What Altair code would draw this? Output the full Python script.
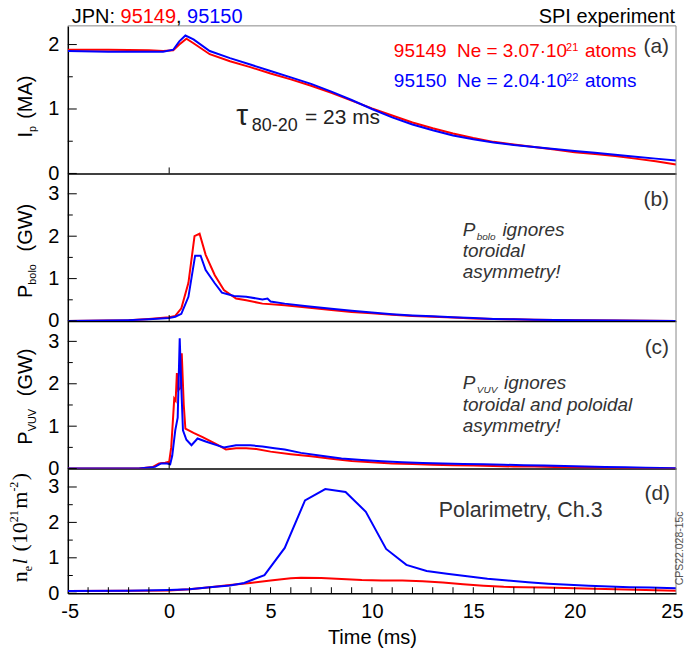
import altair as alt
import pandas as pd

# ------------------------------------------------------------------ data
SHOTS = ["95149", "95150"]
RED = "#ff0000"
BLUE = "#0000ff"

# (a) plasma current Ip (MA)
ip_t_149 = [-5, -3, -1, -0.3, 0.2, 0.5, 0.85, 1.2, 2, 3, 4, 5, 6, 7, 8, 9, 10, 11, 12, 13,
            14, 15, 16, 17, 18, 19, 20, 21, 22, 23, 24, 25]
ip_v_149 = [1.92, 1.92, 1.91, 1.90, 1.91, 2.00, 2.09, 2.02, 1.85, 1.74, 1.65, 1.55, 1.46, 1.36,
            1.25, 1.13, 1.01, 0.90, 0.79, 0.70, 0.62, 0.55, 0.49, 0.45, 0.41, 0.37, 0.33, 0.30,
            0.27, 0.23, 0.19, 0.14]
ip_t_150 = [-5, -3, -1, -0.3, 0.2, 0.5, 0.8, 1.2, 2, 3, 4, 5, 6, 7, 8, 9, 10, 11, 12, 13,
            14, 15, 16, 17, 18, 19, 20, 21, 22, 23, 24, 25]
ip_v_150 = [1.90, 1.89, 1.89, 1.89, 1.92, 2.05, 2.14, 2.08, 1.90, 1.79, 1.69, 1.59, 1.49, 1.39,
            1.27, 1.14, 1.00, 0.87, 0.76, 0.67, 0.59, 0.53, 0.48, 0.44, 0.41, 0.38, 0.35, 0.32,
            0.29, 0.26, 0.23, 0.20]

# (b) bolometric power (GW)
pb_t_149 = [-5, -3, -2, -1, 0, 0.3, 0.6, 0.95, 1.25, 1.5, 1.8, 2.25, 2.7, 3.3, 3.8, 4.6, 5.7,
            6.8, 8, 9, 10, 11, 12, 13, 14, 15, 16, 17, 18, 20, 22, 25]
pb_v_149 = [0, 0.01, 0.02, 0.05, 0.09, 0.12, 0.30, 0.90, 2.00, 2.06, 1.56, 1.08, 0.73, 0.53,
            0.49, 0.41, 0.37, 0.32, 0.26, 0.21, 0.18, 0.15, 0.12, 0.10, 0.08, 0.06, 0.05, 0.04,
            0.03, 0.02, 0.01, 0.0]
pb_t_150 = [-5, -3, -2, -1, 0, 0.3, 0.6, 0.95, 1.28, 1.55, 1.8, 2.25, 2.6, 3.2, 3.8, 4.6, 4.85,
            5.0, 5.7, 6.8, 8, 9, 10, 11, 12, 13, 14, 15, 16, 17, 18, 20, 22, 25]
pb_v_150 = [0, 0.01, 0.02, 0.04, 0.07, 0.10, 0.17, 0.57, 1.54, 1.54, 1.20, 0.89, 0.67, 0.59,
            0.57, 0.51, 0.53, 0.46, 0.41, 0.35, 0.29, 0.24, 0.20, 0.16, 0.13, 0.11, 0.09, 0.07,
            0.05, 0.04, 0.03, 0.02, 0.01, 0.0]

# (c) VUV power (GW)
pv_t_149 = [-5, -1.5, -0.8, -0.5, -0.2, 0, 0.1, 0.18, 0.25, 0.32, 0.38, 0.45, 0.55, 0.62, 0.72,
            0.8, 1.2, 1.65, 2.3, 2.8, 3.3, 3.8, 4.3, 5, 6, 7, 8, 9, 10, 11, 12, 13, 14, 15, 16,
            17, 18, 19, 20, 21, 22, 23, 25]
pv_v_149 = [0, 0, 0.04, 0.12, 0.14, 0.16, 0.50, 1.10, 1.65, 1.60, 2.25, 1.85, 1.90, 2.72, 1.50,
            0.94, 0.84, 0.74, 0.58, 0.45, 0.48, 0.48, 0.46, 0.40, 0.34, 0.29, 0.23, 0.18, 0.15,
            0.12, 0.11, 0.09, 0.08, 0.07, 0.06, 0.05, 0.05, 0.04, 0.03, 0.02, 0.01, 0.01, 0]
pv_t_150 = [-5, -1.5, -0.7, -0.4, -0.1, 0.05, 0.15, 0.3, 0.42, 0.52, 0.6, 0.68, 0.85, 1.1, 1.4,
            1.8, 2.3, 2.7, 3.3, 4, 4.6, 5.2, 5.7, 6.5, 7.5, 8.5, 9.5, 10.5, 11.5, 12.5, 13.5,
            14.5, 15.5, 16.5, 17.5, 18.5, 19.5, 20.5, 21.5, 22.5, 23.5, 25]
pv_v_150 = [0, 0, 0.04, 0.12, 0.12, 0.10, 0.30, 0.90, 1.20, 3.07, 1.90, 0.90, 0.68, 0.55, 0.71,
            0.64, 0.56, 0.50, 0.55, 0.55, 0.52, 0.48, 0.45, 0.37, 0.30, 0.24, 0.20, 0.17, 0.15,
            0.13, 0.12, 0.11, 0.10, 0.09, 0.08, 0.07, 0.06, 0.05, 0.04, 0.03, 0.02, 0.01]

# (d) line-integrated density, polarimetry Ch.3 (1e21 m^-2)
ne_t_149 = [-5, -2, 0, 1, 2, 3, 4, 5, 6, 6.5, 7.5, 8.5, 9.5, 10.5, 11.5, 12.5, 13.5, 14.5, 15.5,
            16.5, 17.5, 18.5, 20, 22, 23.5, 25]
ne_v_149 = [0.06, 0.07, 0.08, 0.11, 0.17, 0.23, 0.29, 0.36, 0.42, 0.44, 0.43, 0.40, 0.37, 0.36,
            0.36, 0.34, 0.30, 0.25, 0.21, 0.18, 0.17, 0.16, 0.14, 0.11, 0.09, 0.07]
ne_t_150 = [-5, -2, 0, 1, 2, 3, 3.7, 4.7, 5.7, 6.7, 7.7, 8.7, 9.7, 10.7, 11.7, 12.7, 13.7, 14.7,
            15.7, 16.7, 17.7, 18.7, 19.7, 20.7, 21.7, 22.7, 23.7, 25]
ne_v_150 = [0.06, 0.07, 0.09, 0.11, 0.17, 0.22, 0.29, 0.51, 1.28, 2.62, 2.94, 2.86, 2.30, 1.25,
            0.80, 0.63, 0.55, 0.48, 0.41, 0.36, 0.31, 0.27, 0.24, 0.21, 0.19, 0.17, 0.16, 0.14]

X_LABELS = [-5, 0, 5, 10, 15, 20, 25]
X_MINOR = list(range(-4, 25))

# ------------------------------------------------------------------ layout / style
W = 610
FONT = "Liberation Sans"
SERIF = "Liberation Serif"
GREY = "#333333"
NB = "\u00a0"

SANS_W = {' ': 278, NB: 278, '!': 278, '(': 333, ')': 333, ',': 278, '-': 333, '.': 278,
          ':': 278, '=': 584, 'A': 667, 'C': 722, 'G': 778, 'I': 278, 'J': 500, 'M': 833,
          'N': 722, 'P': 667, 'S': 667, 'T': 611, 'U': 722, 'V': 667, 'W': 944, 'a': 556,
          'b': 556, 'c': 500, 'd': 556, 'e': 556, 'g': 556, 'h': 556, 'i': 222, 'l': 222,
          'm': 833, 'n': 556, 'o': 556, 'p': 556, 'r': 333, 's': 500, 't': 278, 'x': 500,
          'y': 500, '\u00b7': 278, '\u03c4': 520}
SERIF_W = {' ': 250, NB: 250, '(': 333, ')': 333, '-': 333, 'n': 500, 'e': 444, 'l': 278,
           'm': 778}


def tw(s, size, serif=False):
    tab = SERIF_W if serif else SANS_W
    dflt = 500 if serif else 556
    return sum(tab.get(ch, dflt) for ch in s) * size / 1000.0


ONE = pd.DataFrame({"k": [0]})


def txt(s, x, y, size=20, color="black", angle=0, style="normal", font=FONT, align="left"):
    s = s.replace(" ", NB)
    return alt.Chart(ONE).mark_text(
        text=s, fontSize=size, color=color, angle=angle, fontStyle=style, font=font,
        align=align, baseline="alphabetic"
    ).encode(x=alt.value(x), y=alt.value(y))


def rich(pieces, x, y, rotated=False, font=FONT):
    """pieces: (text, size, color, shift, style); shift >0 means lowered (subscript)."""
    out = []
    serif = font == SERIF
    pos = x if not rotated else y
    sign = -1 if rotated else 1
    for text, size, color, shift, style in pieces:
        lead = len(text) - len(text.lstrip(" "))
        trail = len(text) - len(text.rstrip(" "))
        core = text.strip(" ")
        pos += sign * tw(" " * lead, size, serif)
        if rotated:
            out.append(txt(core, x + shift, pos, size, color, angle=270, style=style, font=font))
        else:
            out.append(txt(core, pos, y + shift, size, color, style=style, font=font))
        pos += sign * tw(core + " " * trail, size, serif)
        if shift != 0 or style == "italic":
            pos += sign * 1.5
    return out


def panel(series, ydom, ymajor, yminor, h, texts, bottom=False):
    xs = alt.Scale(domain=[-5, 25], nice=False, zero=False)
    ys = alt.Scale(domain=ydom, nice=False, zero=False)
    xkw = dict(values=X_LABELS, ticks=False, tickSize=0, labels=bottom, domain=True,
               domainColor="black", domainWidth=1.5, grid=False, labelFontSize=20,
               labelFont=FONT, labelColor="black", labelPadding=8,
               labelFlush=True, labelFlushOffset=7,
               labelExpr="'' + datum.value",
               title="Time (ms)" if bottom else "", titleFontSize=20, titleFont=FONT,
               titleFontWeight="normal", titleColor="black", titlePadding=6)
    xax = alt.Axis(**xkw)
    yax = alt.Axis(values=ymajor, ticks=False, tickSize=0, labelFontSize=20, labelFont=FONT,
                   labelColor="black", labelPadding=9, domain=True, domainColor="black",
                   domainWidth=1.5, grid=False, title="")
    layers = []
    for (t, v), shot, col in zip(series, SHOTS, [RED, BLUE]):
        df = pd.DataFrame({"t": t, "v": v, "shot": shot})
        layers.append(alt.Chart(df).mark_line(strokeWidth=2, color=col, clip=True).encode(
            x=alt.X("t:Q", scale=xs, axis=xax),
            y=alt.Y("v:Q", scale=ys, axis=yax)))
    maj = pd.DataFrame({"v": ymajor})
    mnr = pd.DataFrame({"v": yminor})
    layers.append(alt.Chart(maj).mark_rule(color="black", strokeWidth=1).encode(
        y=alt.Y("v:Q", scale=ys, axis=yax), x=alt.value(0), x2=alt.value(9)))
    layers.append(alt.Chart(mnr).mark_rule(color="black", strokeWidth=1).encode(
        y=alt.Y("v:Q", scale=ys, axis=yax), x=alt.value(0), x2=alt.value(5)))
    xt = pd.DataFrame({"t": X_MINOR if bottom else [0]})
    layers.append(alt.Chart(xt).mark_rule(color="black", strokeWidth=1).encode(
        x=alt.X("t:Q", scale=xs, axis=xax), y=alt.value(h - 6), y2=alt.value(h)))
    # right frame edge
    layers.append(alt.Chart(ONE).mark_rule(color="#888888", strokeWidth=1).encode(
        x=alt.value(W), y=alt.value(0), y2=alt.value(h)))
    layers.extend(texts)
    return alt.layer(*layers).properties(width=W, height=h)


# ------------------------------------------------------------------ texts
ta = []
ta.append(alt.Chart(ONE).mark_rect(opacity=0).encode(
    x=alt.value(-67.7), x2=alt.value(0), y=alt.value(-25), y2=alt.value(0)))
ta.append(alt.Chart(ONE).mark_rule(color="#888888", strokeWidth=1).encode(
    x=alt.value(0), x2=alt.value(W), y=alt.value(0)))
ta += rich([("JPN: ", 20, "black", 0, "normal"), ("95149", 20, RED, 0, "normal"),
            (", ", 20, "black", 0, "normal"), ("95150", 20, BLUE, 0, "normal")], 4, -3)
ta.append(txt("SPI experiment", 609, -3, 20, "black", align="right"))
ta += rich([("95149  Ne = 3.07\u00b710", 19, RED, 0, "normal"), ("21", 11, RED, -6, "normal"),
            (" atoms", 19, RED, 0, "normal")], 327, 31.5)
ta += rich([("95150  Ne = 2.04\u00b710", 19, BLUE, 0, "normal"), ("22", 11, BLUE, -6, "normal"),
            (" atoms", 19, BLUE, 0, "normal")], 327, 61.5)
ta.append(txt("(a)", 603, 27, 21, GREY, align="right"))
ta += rich([("\u03c4", 30, "#222222", 0, "normal"), ("80-20", 18, "#222222", 6, "normal"),
            (" = 23 ms", 21, "#222222", -1, "normal")], 169, 99)
ta += rich([("I", 20, "black", 0, "normal"), ("p", 11, "black", 4, "normal"),
            (" (MA)", 20, "black", 0, "normal")], -36, 112, rotated=True)

tb = []
tb += rich([("P", 20, "black", 0, "normal"), ("bolo", 11, "black", 4, "normal"),
            ("  (GW)", 20, "black", 0, "normal")], -36, 125, rotated=True)
tb.append(txt("(b)", 603, 33, 21, GREY, align="right"))
tb += rich([("P", 19, GREY, 0, "italic"), ("bolo", 10, GREY, 4, "italic"),
            (" ignores", 19, GREY, 0, "italic")], 396, 63)
tb.append(txt("toroidal", 396, 84, 19, GREY, style="italic"))
tb.append(txt("asymmetry!", 396, 105, 19, GREY, style="italic"))

tc = []
tc += rich([("P", 20, "black", 0, "normal"), ("VUV", 11, "black", 4, "normal"),
            ("  (GW)", 20, "black", 0, "normal")], -36, 124, rotated=True)
tc.append(txt("(c)", 603, 33, 21, GREY, align="right"))
tc += rich([("P", 19, GREY, 0, "italic"), ("VUV", 10, GREY, 4, "italic"),
            (" ignores", 19, GREY, 0, "italic")], 396, 68)
tc.append(txt("toroidal and poloidal", 396, 90, 19, GREY, style="italic"))
tc.append(txt("asymmetry!", 396, 111, 19, GREY, style="italic"))

td = []
td += rich([("n", 22, "black", 0, "normal"), ("e", 12, "black", 5, "normal"),
            ("l", 22, "black", 0, "italic"), (" (10", 22, "black", 0, "normal"),
            ("21", 12, "black", -9, "normal"), ("m", 22, "black", 0, "normal"),
            ("-2", 12, "black", -9, "normal"), (")", 22, "black", 0, "normal")],
           -41, 114, rotated=True, font=SERIF)
td.append(txt("(d)", 604, 32, 21, GREY, align="right"))
td.append(txt("Polarimetry, Ch.3", 372, 49, 21.5, GREY))
td.append(txt("CPS22.028-15c", 616.5, 117, 10.5, "#555555", angle=270))

pa = panel([(ip_t_149, ip_v_149), (ip_t_150, ip_v_150)], [0, 2.29], [0, 1, 2],
           [0.5, 1.5], 148, ta)
pb = panel([(pb_t_149, pb_v_149), (pb_t_150, pb_v_150)], [0, 3.48], [0, 1, 2, 3],
           [0.5, 1.5, 2.5], 148, tb)
pc = panel([(pv_t_149, pv_v_149), (pv_t_150, pv_v_150)], [0, 3.48], [0, 1, 2, 3],
           [0.5, 1.5, 2.5], 148, tc)
pd_ = panel([(ne_t_149, ne_v_149), (ne_t_150, ne_v_150)], [0, 3.52], [0, 1, 2, 3],
            [0.5, 1.5, 2.5], 125, td, bottom=True)

chart = alt.vconcat(pa, pb, pc, pd_, spacing=0, bounds="flush", padding=0,
                    background="white").configure_view(stroke=None)

chart.save("out.html", embed_options={"renderer": "svg", "actions": False})
